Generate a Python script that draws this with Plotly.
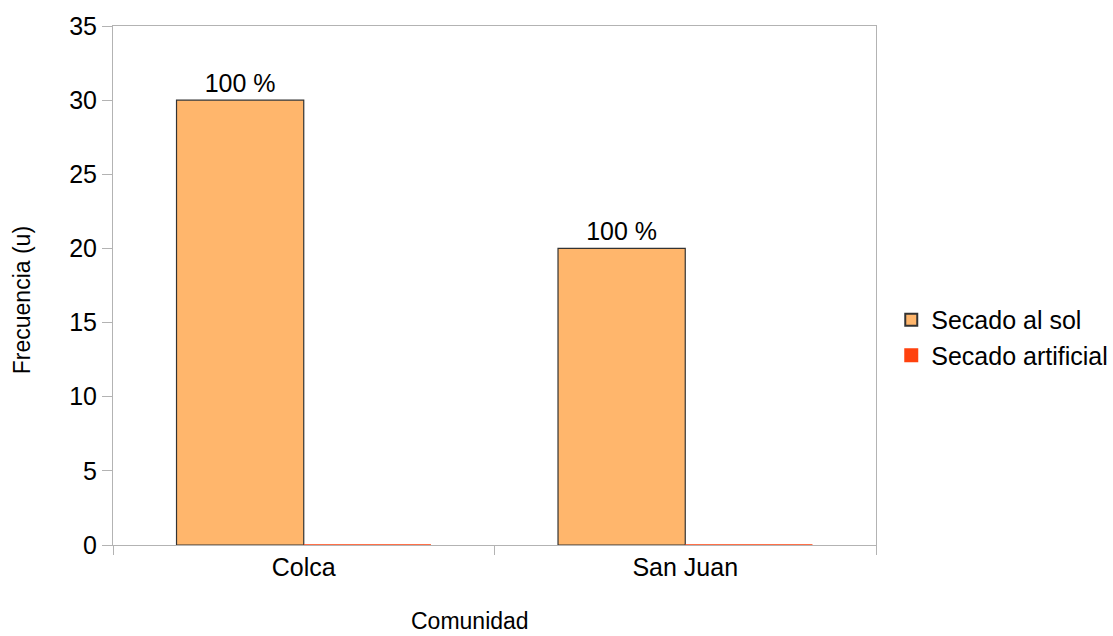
import plotly.graph_objects as go

# Datos por comunidad
comunidades = ["Colca", "San Juan"]
secado_sol = [30, 20]
secado_artificial = [0, 0]
etiquetas_sol = ["100 %", "100 %"]

FONT = "Liberation Sans, Arial, sans-serif"
GRIS = "#b3b3b3"

fig = go.Figure()
fig.add_trace(go.Bar(
    name="Secado al sol",
    x=comunidades,
    y=secado_sol,
    text=etiquetas_sol,
    textposition="outside",
    textfont=dict(size=25, color="black", family=FONT),
    cliponaxis=False,
    marker=dict(color="#ffb66c", line=dict(color="#333333", width=1.2)),
))
fig.add_trace(go.Bar(
    name="Secado artificial",
    x=comunidades,
    y=secado_artificial,
    marker=dict(color="#ff420e", line=dict(color="#ff420e", width=1.5)),
))

fig.update_layout(
    width=1113,
    height=636,
    margin=dict(l=113, r=237, t=26, b=91, autoexpand=False),
    plot_bgcolor="white",
    paper_bgcolor="white",
    barmode="group",
    bargap=0.333,
    bargroupgap=0,
    font=dict(family=FONT, color="black"),
    showlegend=True,
    legend=dict(
        x=1.020, y=0.40, xanchor="left", yanchor="middle",
        font=dict(size=25, family=FONT, color="black"),
        itemsizing="constant",
        tracegroupgap=4,
    ),
    annotations=[
        dict(text="Comunidad", xref="paper", yref="paper", x=0.468, y=-0.147,
             xanchor="center", yanchor="middle", showarrow=False, borderpad=0,
             font=dict(size=23, family=FONT, color="black")),
        dict(text="Frecuencia (u)", xref="paper", yref="paper", x=-0.119, y=0.472,
             xanchor="center", yanchor="middle", showarrow=False, textangle=-90,
             font=dict(size=23, family=FONT, color="black")),
    ],
)
fig.update_xaxes(
    showline=True, linecolor=GRIS, linewidth=1, mirror=True,
    showgrid=False, ticks="outside", tickson="boundaries",
    ticklen=9, tickcolor=GRIS,
    tickfont=dict(size=25, family=FONT, color="black"),
)
fig.update_yaxes(
    range=[0, 35], dtick=5, tick0=0,
    showline=True, linecolor=GRIS, linewidth=1, mirror=True,
    showgrid=False, zeroline=False, ticks="outside",
    ticklen=10, tickcolor=GRIS,
    tickfont=dict(size=25, family=FONT, color="black"),
)

fig.write_html("out.html")
